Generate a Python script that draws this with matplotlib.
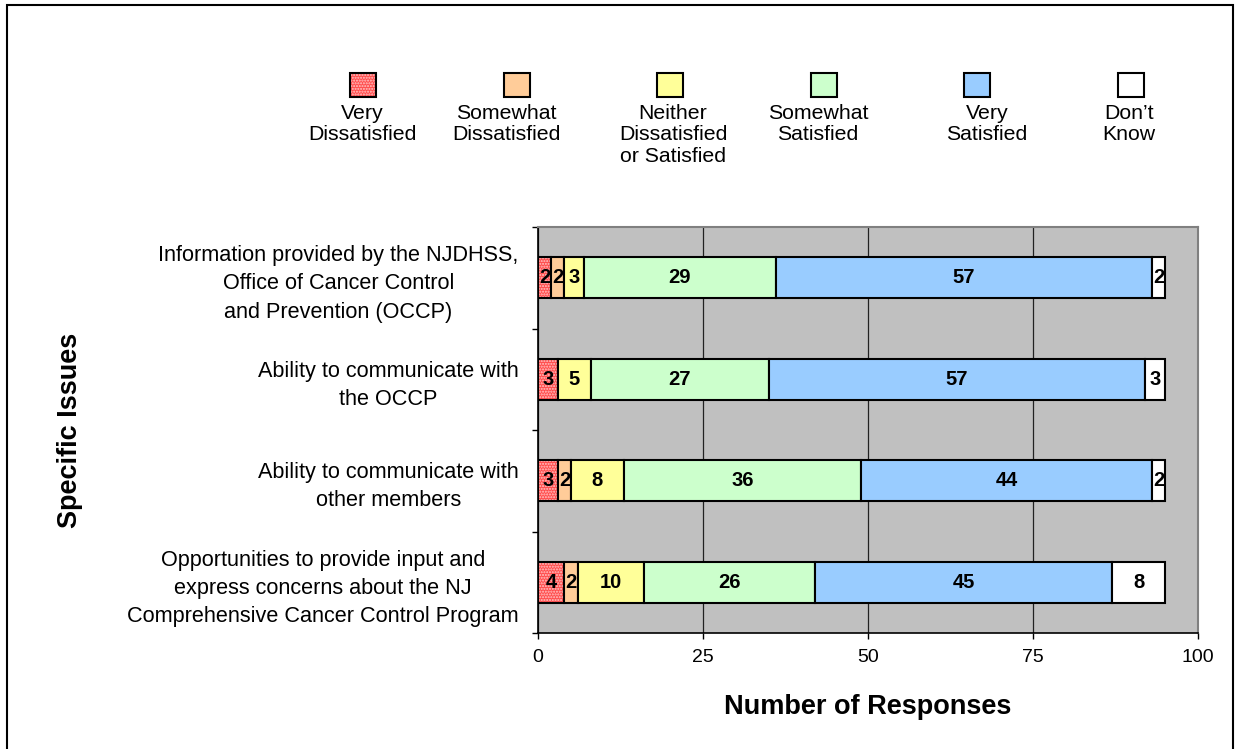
import matplotlib.pyplot as plt
import numpy as np
from matplotlib.patches import Rectangle

plt.rcParams['font.family'] = ['Liberation Sans', 'DejaVu Sans']

# data
issues = [
    "Information provided by the NJDHSS,\nOffice of Cancer Control\nand Prevention (OCCP)",
    "Ability to communicate with\nthe OCCP",
    "Ability to communicate with\nother members",
    "Opportunities to provide input and\nexpress concerns about the NJ\nComprehensive Cancer Control Program",
]
series_names = ["Very\nDissatisfied", "Somewhat\nDissatisfied", "Neither\nDissatisfied\nor Satisfied",
                "Somewhat\nSatisfied", "Very\nSatisfied", "Don\u2019t\nKnow"]
very_dis = [2, 3, 3, 4]
some_dis = [2, 0, 2, 2]
neither = [3, 5, 8, 10]
some_sat = [29, 27, 36, 26]
very_sat = [57, 57, 44, 45]
dont_know = [2, 3, 2, 8]
series = [very_dis, some_dis, neither, some_sat, very_sat, dont_know]
colors = ['#FF4D4D', '#FFCC99', '#FFFF99', '#CCFFCC', '#99CCFF', '#FFFFFF']

W, H = 1235, 749
fig = plt.figure(figsize=(W / 100, H / 100), dpi=100)
ax = fig.add_axes([538 / W, 1 - 633 / H, 660 / W, 406 / H])
ax.set_facecolor('#C0C0C0')

y = np.arange(len(issues))
left = np.zeros(len(issues))
for i, (vals, col) in enumerate(zip(series, colors)):
    vals = np.array(vals, dtype=float)
    if i == 0:
        # dotted red fill, then black outline on top
        ax.barh(y, vals, left=left, height=0.4, color=col, edgecolor='#FFC8C8',
                hatch='......', linewidth=0, zorder=2)
        ax.barh(y, vals, left=left, height=0.4, fill=False, edgecolor='black',
                linewidth=1.5, zorder=3)
    else:
        ax.barh(y, vals, left=left, height=0.4, color=col, edgecolor='black',
                linewidth=1.5, zorder=3)
    for yi, v, l in zip(y, vals, left):
        if v > 0:
            ax.text(l + v / 2, yi, f"{int(v)}", ha='center', va='center',
                    fontsize=14.5, fontweight='bold', zorder=4)
    left += vals

ax.set_xlim(0, 100)
ax.set_ylim(3.5, -0.5)
ax.set_xticks([0, 25, 50, 75, 100])
ax.tick_params(axis='x', direction='out', length=4.5, width=1, labelsize=14, pad=7)
ax.set_yticks(y)
ax.set_yticklabels(issues, fontsize=15.6, multialignment='center', linespacing=1.45)
ax.set_yticks(np.arange(-0.5, 4, 1), minor=True)
ax.tick_params(axis='y', which='major', length=0, pad=14)
ax.tick_params(axis='y', which='minor', direction='out', length=4.5, width=1)
ax.grid(axis='x', color='#222222', linewidth=0.9, zorder=1)
ax.set_axisbelow(True)
for s in ['left', 'bottom']:
    ax.spines[s].set_color('black')
    ax.spines[s].set_linewidth(1.2)
for s in ['top', 'right']:
    ax.spines[s].set_color('#808080')
    ax.spines[s].set_linewidth(1.5)

ax.set_xlabel("Number of Responses", fontsize=19.5, fontweight='bold', labelpad=20)
fig.text(70 / W, 1 - 430 / H, "Specific Issues", rotation=90, ha='center', va='center',
         fontsize=19.5, fontweight='bold')

# legend: swatch above each label
sq_x = [363, 517, 670, 824, 977, 1131]
txt_x = [362, 506, 673, 818, 987, 1129]
for i, (name, col) in enumerate(zip(series_names, colors)):
    xy = ((sq_x[i] - 13) / W, 1 - 97 / H)
    if i == 0:
        fig.add_artist(Rectangle(xy, 26 / W, 24 / H, transform=fig.transFigure,
                                 facecolor=col, edgecolor='#FFC8C8', hatch='......', linewidth=0))
        fig.add_artist(Rectangle(xy, 26 / W, 24 / H, transform=fig.transFigure,
                                 fill=False, edgecolor='black', linewidth=1.5))
    else:
        fig.add_artist(Rectangle(xy, 26 / W, 24 / H, transform=fig.transFigure,
                                 facecolor=col, edgecolor='black', linewidth=1.5))
    fig.text(txt_x[i] / W, 1 - 104 / H, name, ha='center', va='top', fontsize=15.3,
             linespacing=1.15, multialignment='center')

# chart border
fig.add_artist(Rectangle((7 / W, -0.02), 1226 / W, 1.02 - 5 / H, transform=fig.transFigure,
                         fill=False, edgecolor='black', linewidth=1.5))

fig.savefig('out.png', dpi=100)
